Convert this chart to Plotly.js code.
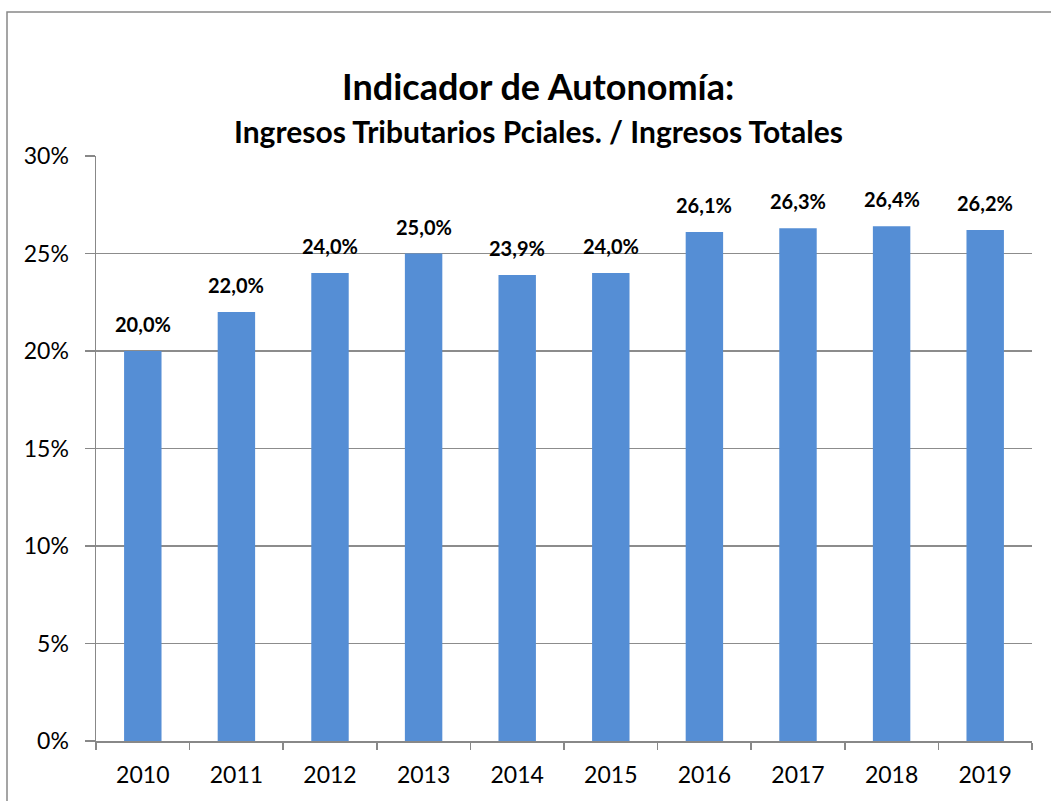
<!DOCTYPE html>
<html><head><meta charset="utf-8">
<script src="https://cdn.plot.ly/plotly-3.0.1.min.js"></script>
<style>html,body{margin:0;padding:0;background:#fff;overflow:hidden;}#chart{width:1051px;height:801px;}</style>
</head><body><div id="chart"></div>
<script>
const years = ['2010','2011','2012','2013','2014','2015','2016','2017','2018','2019'];
const ratio = [20.0, 22.0, 24.0, 25.0, 23.9, 24.0, 26.1, 26.3, 26.4, 26.2];
const yTicks = [0, 5, 10, 15, 20, 25, 30];

const FONT = 'Lato, "Open Sans", "DejaVu Sans", sans-serif';

const trace = {
  type: 'bar', x: years, y: ratio, width: 0.4,
  marker: {color: '#558ED5', line: {width: 0}},
  hoverinfo: 'x+y'
};

const labelAnns = years.map((yr, i) => ({
  x: i, y: ratio[i], xref: 'x', yref: 'y',
  text: ratio[i].toFixed(1).replace('.', ',') + '%',
  showarrow: false, xanchor: 'center', yanchor: 'bottom', yshift: 13,
  font: {family: FONT, size: 20, color: '#000', weight: 'bold'}
}));

const layout = {
  width: 1051, height: 801,
  margin: {l: 96, r: 19, t: 156, b: 60},
  paper_bgcolor: '#fff', plot_bgcolor: '#fff',
  separators: ',.',
  showlegend: false,
  font: {family: FONT, color: '#000'},
  xaxis: {
    type: 'category', categoryarray: years, range: [-0.5, years.length - 0.5], autorange: false,
    tickson: 'boundaries', ticks: 'outside', ticklen: 7, tickcolor: '#888', tickwidth: 1.5,
    showline: true, linecolor: '#888', linewidth: 1.5, showgrid: false, tickangle: 0,
    tickfont: {family: FONT, size: 23, color: '#000'}, ticklabelstandoff: 13
  },
  yaxis: {
    range: [0, 30], autorange: false, tickvals: yTicks, ticktext: yTicks.map(v => v + '%'),
    ticks: 'outside', ticklen: 10, tickcolor: '#888', tickwidth: 1.5,
    showline: true, linecolor: '#888', linewidth: 1.5,
    showgrid: true, gridcolor: '#8c8c8c', gridwidth: 1.3, zeroline: false,
    tickfont: {family: FONT, size: 23, color: '#000'}, ticklabelstandoff: 11
  },
  annotations: [
    {text: 'Indicador de Autonomía:', xref: 'paper', yref: 'paper', x: (538-96)/936, y: (741-86)/585,
     xanchor: 'center', yanchor: 'middle', showarrow: false, font: {family: FONT, size: 36, color: '#000', weight: 'bold'}},
    {text: 'Ingresos Tributarios Pciales. / Ingresos Totales', xref: 'paper', yref: 'paper', x: (538-96)/936, y: (741-131)/585,
     xanchor: 'center', yanchor: 'middle', showarrow: false, font: {family: FONT, size: 30, color: '#000', weight: 'bold'}}
  ].concat(labelAnns),
  shapes: [
    {type: 'rect', xref: 'paper', yref: 'paper', x0: (7-96)/936, x1: (1060-96)/936, y0: (741-812)/585, y1: (741-12)/585,
     line: {color: '#888', width: 1.5}, fillcolor: 'rgba(0,0,0,0)', layer: 'below'}
  ]
};

Plotly.newPlot('chart', [trace], layout, {displayModeBar: false, staticPlot: true});
</script></body></html>
